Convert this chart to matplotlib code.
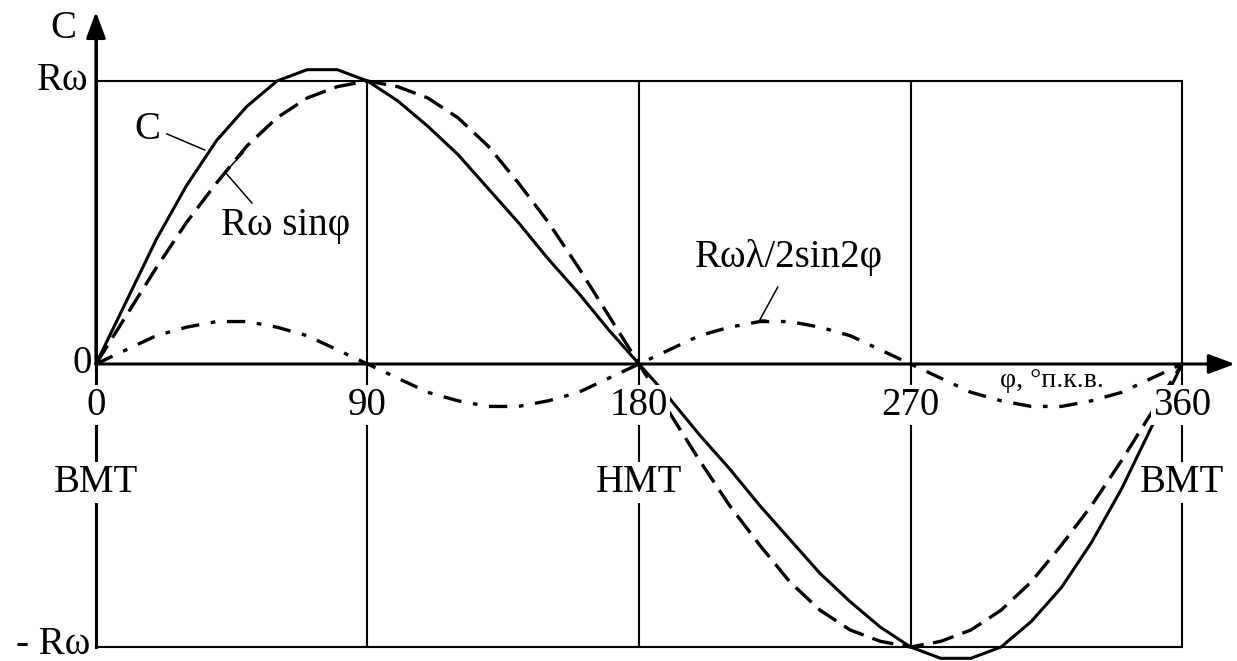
import matplotlib
matplotlib.use("Agg")
import matplotlib.pyplot as plt

plt.rcParams['font.family'] = ['Liberation Serif', 'DejaVu Serif']

# crank angle, degrees
phi = [0, 10, 20, 30, 40, 50, 60, 70, 80, 90, 100, 110, 120, 130, 140, 150, 160, 170, 180,
       190, 200, 210, 220, 230, 240, 250, 260, 270, 280, 290, 300, 310, 320, 330, 340, 350, 360]
# piston speed C, in units of R*omega
c_vals = [0, 0.22, 0.44, 0.63, 0.79, 0.91, 1.0, 1.04, 1.04, 1.0, 0.93, 0.84, 0.74, 0.62, 0.5,
          0.37, 0.25, 0.12, 0, -0.12, -0.25, -0.37, -0.5, -0.62, -0.74, -0.84, -0.93, -1.0,
          -1.04, -1.04, -1.0, -0.91, -0.79, -0.63, -0.44, -0.22, 0]
# first harmonic  R*omega*sin(phi)
sin_vals = [0, 0.17, 0.34, 0.5, 0.64, 0.77, 0.87, 0.94, 0.98, 1.0, 0.98, 0.94, 0.87, 0.77, 0.64,
            0.5, 0.34, 0.17, 0, -0.17, -0.34, -0.5, -0.64, -0.77, -0.87, -0.94, -0.98, -1.0,
            -0.98, -0.94, -0.87, -0.77, -0.64, -0.5, -0.34, -0.17, 0]
# second harmonic  R*omega*lambda/2*sin(2phi)
half_vals = [0, 0.05, 0.1, 0.13, 0.15, 0.15, 0.13, 0.1, 0.05, 0, -0.05, -0.1, -0.13, -0.15,
             -0.15, -0.13, -0.1, -0.05, 0, 0.05, 0.1, 0.13, 0.15, 0.15, 0.13, 0.1, 0.05, 0,
             -0.05, -0.1, -0.13, -0.15, -0.15, -0.13, -0.1, -0.05, 0]

xticks = [0, 90, 180, 270, 360]
xtick_labels = ["0", "90", "180", "270", "360"]
dead_centres = [0, 180, 360]
dead_labels = ["ВМТ", "НМТ", "ВМТ"]

fig = plt.figure(figsize=(12.37, 6.61), dpi=100)
ax = fig.add_axes([0, 0, 1, 1])
ax.set_xlim(-31.8, 378.2)
ax.set_ylim(-1.0495, 1.2862)
ax.axis("off")

# frame / grid
ax.plot([0, 360], [1, 1], color="k", lw=1.5, zorder=1)
ax.plot([0, 360], [-1, -1], color="k", lw=1.5, zorder=1)
for xv in xticks[1:]:
    ax.plot([xv, xv], [-1, 1], color="k", lw=1.5, zorder=1)
ax.plot([0, 0], [-1, 1.16], color="k", lw=2.2, zorder=1)

# axes with arrows
arr = dict(arrowstyle="-|>,head_length=0.4,head_width=0.15", lw=2.2, color="k",
           mutation_scale=40, shrinkA=0, shrinkB=0)
ax.annotate("", xy=(377.5, 0), xytext=(0, 0), arrowprops=arr, zorder=2)
ax.annotate("", xy=(0, 1.244), xytext=(0, 0), arrowprops=arr, zorder=2)

# curves
ax.plot(phi, half_vals, color="k", lw=2.4, linestyle=(0, (5.5, 3.5, 1.4, 3.5)), zorder=3)
ax.plot(phi, sin_vals, color="k", lw=2.4, linestyle=(0, (6.5, 2.8)), zorder=3)
ax.plot(phi, c_vals, color="k", lw=2.2, zorder=4)

fs = 28
box = dict(fc="white", ec="none", pad=1.5)
for xv, lab in zip(xticks, xtick_labels):
    ax.text(xv, -0.145, lab, ha="center", va="center", fontsize=fs, bbox=box, zorder=5)
for xv, lab in zip(dead_centres, dead_labels):
    ax.text(xv, -0.42, lab, ha="center", va="center", fontsize=fs, bbox=box, zorder=5)

ax.text(-10.9, 1.184, "C", ha="center", va="center", fontsize=fs)
ax.text(-2.6, 1.0, "Rω", ha="right", va="center", fontsize=fs)
ax.text(-1.3, 0.0, "0", ha="right", va="center", fontsize=fs)
ax.text(-2.0, -0.99, "- Rω", ha="right", va="center", fontsize=fs)
ax.text(317, -0.06, "φ, °п.к.в.", ha="center", va="center", fontsize=20)

# curve labels with leaders
ax.text(16.9, 0.827, "C", ha="center", va="center", fontsize=fs)
ax.plot([23.5, 36.1], [0.813, 0.756], color="k", lw=1.1)
ax.text(63, 0.49, "Rω sinφ", ha="center", va="center", fontsize=fs)
ax.plot([51.7, 42.8, 48.8], [0.569, 0.678, 0.746], color="k", lw=1.1)
ax.text(229.7, 0.375, "Rωλ/2sin2φ", ha="center", va="center", fontsize=fs)
ax.plot([226, 220, 222], [0.272, 0.155, 0.155], color="k", lw=1.1)

fig.savefig("out.png", dpi=100)
